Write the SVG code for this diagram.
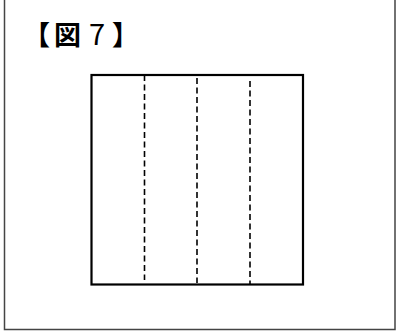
<svg xmlns="http://www.w3.org/2000/svg" width="397" height="331" viewBox="0 0 397 331">
<style>
.frame{fill:none;stroke:#444;stroke-width:1.5}
.sq{fill:none;stroke:#000;stroke-width:2.2}
.fold{stroke:#000;stroke-width:1.6;stroke-dasharray:6 3.5}
.title{font-family:"Noto Sans CJK JP","Noto Sans",sans-serif;font-size:27px;font-weight:bold;fill:#000}
</style>
<rect width="397" height="331" fill="#fff"/>
<g id="frame"><path class="frame" d="M4.5,0 V329.5 H395 V0"/></g>
<g id="title"><text class="title" y="45"><tspan x="23">【</tspan><tspan x="54">図</tspan><tspan x="89" font-weight="normal" font-size="29">7</tspan><tspan x="112">】</tspan></text></g>
<g id="square"><rect class="sq" x="91.5" y="75" width="211.5" height="209.5"/></g>
<g id="folds">
<line class="fold" x1="144.5" y1="75" x2="144.5" y2="280"/>
<line class="fold" x1="197" y1="78" x2="197" y2="283"/>
<line class="fold" x1="250" y1="81" x2="250" y2="284"/>
</g>
</svg>
